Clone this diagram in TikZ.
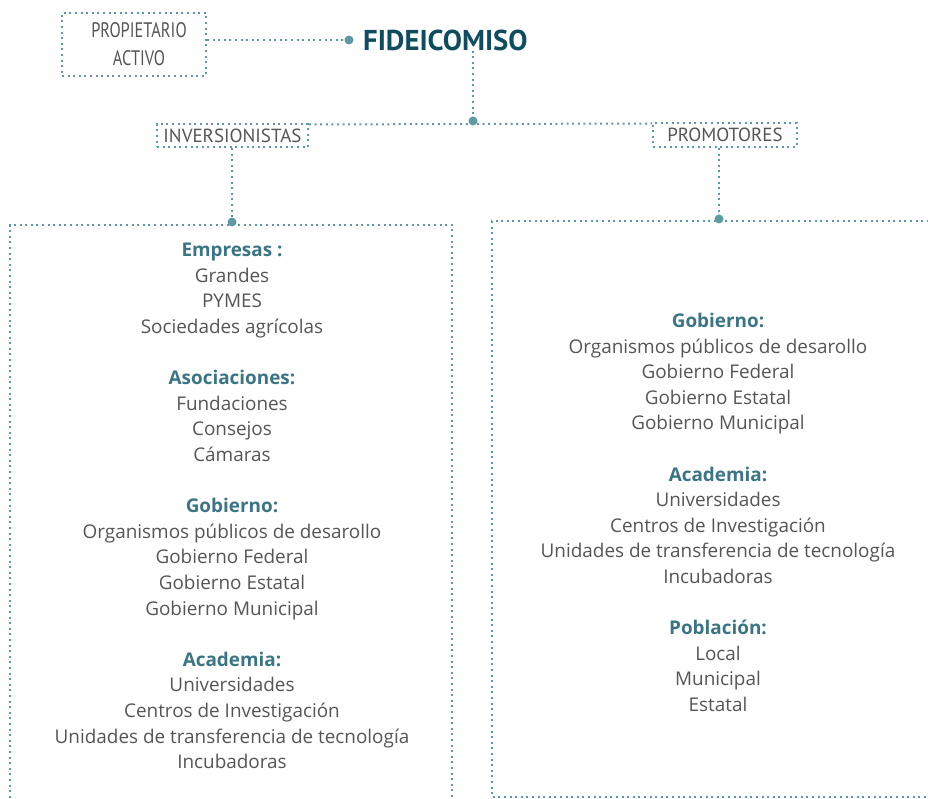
\documentclass[tikz,border=0pt]{standalone}
\usepackage{fontspec}
\setmainfont{Open Sans}
\newfontfamily\tagfont{PT Sans}
\newfontfamily\condfont[FakeStretch=0.78]{PT Sans}
\usetikzlibrary{positioning, calc}

\definecolor{dotteal}{HTML}{5E9AA6}
\definecolor{headteal}{HTML}{3B7585}
\definecolor{titleteal}{HTML}{0F4C5F}
\definecolor{textgray}{HTML}{555555}
\newcommand{\hd}[1]{{\color{headteal}\bfseries #1}}

\begin{document}
\begin{tikzpicture}[
    x=1pt, y=1pt,
    dots/.style={draw=dotteal, line width=2pt, dash pattern=on 2pt off 3.6pt},
    tag/.style={dots, text=textgray, inner sep=0pt, align=center},
    knob/.style={circle, fill=dotteal, inner sep=0pt, minimum size=9pt},
    list/.style={text=textgray, align=center, font=\fontsize{18.9}{25.6}\selectfont},
  ]
  \clip (0,0) rectangle (928,799);
  % Top
  \node[tag, minimum width=144pt, minimum height=63pt, font=\condfont\fontsize{21}{28}\selectfont] (prop) at (134,754.5) {\hspace{10pt}PROPIETARIO\\\hspace{10pt}ACTIVO};
  \node[knob] (kprop) at (349,759) {};
  \node[anchor=west, text=titleteal, font=\tagfont\bfseries\fontsize{28.7}{32}\selectfont, inner sep=0pt] (fid) at (363,759) {FIDEICOMISO};
  \draw[dots] (prop.east |- kprop) -- (kprop);
  \node[knob] (kfid) at (473,678) {};
  \draw[dots] (kfid |- fid.south) -- (kfid);
  % Branches
  \node[tag, minimum width=151pt, minimum height=23pt, font=\tagfont\fontsize{19}{22}\selectfont] (inv) at (232.5,663.5) {INVERSIONISTAS};
  \node[tag, minimum width=144pt, minimum height=24pt, font=\tagfont\fontsize{19}{22}\selectfont] (prom) at (725,664) {PROMOTORES};
  \draw[dots] ([yshift=-1.5pt]inv.north east) -- ([yshift=-1.5pt]prom.north west);
  \node[knob] (kinv) at (232,577) {};
  \node[knob] (kprom) at (719,580) {};
  \draw[dots] (kinv |- inv.south) -- (kinv);
  \draw[dots] (kprom |- prom.south) -- (kprom);
  % Boxes
  \coordinate (lbox) at (10,574);
  \coordinate (rbox) at (492,578);
  \draw[dots] (10,-10) -- (lbox) -- (452,574) -- (452,-10);
  \draw[dots] (940,578) -- (rbox) -- (492,2) -- (940,2);
  % Lists
  \node[list] (inversores) at (232,293) {\hd{Empresas :}\\Grandes\\PYMES\\Sociedades agrícolas\\[25.6pt]
    \hd{Asociaciones:}\\Fundaciones\\Consejos\\Cámaras\\[25.6pt]
    \hd{Gobierno:}\\Organismos públicos de desarollo\\Gobierno Federal\\Gobierno Estatal\\Gobierno Municipal\\[25.6pt]
    \hd{Academia:}\\Universidades\\Centros de Investigación\\Unidades de transferencia de tecnología\\Incubadoras};
  \node[list] (promotores) at (718,286.5) {\hd{Gobierno:}\\Organismos públicos de desarollo\\Gobierno Federal\\Gobierno Estatal\\Gobierno Municipal\\[25.6pt]
    \hd{Academia:}\\Universidades\\Centros de Investigación\\Unidades de transferencia de tecnología\\Incubadoras\\[25.6pt]
    \hd{Población:}\\Local\\Municipal\\Estatal};
\end{tikzpicture}
\end{document}
